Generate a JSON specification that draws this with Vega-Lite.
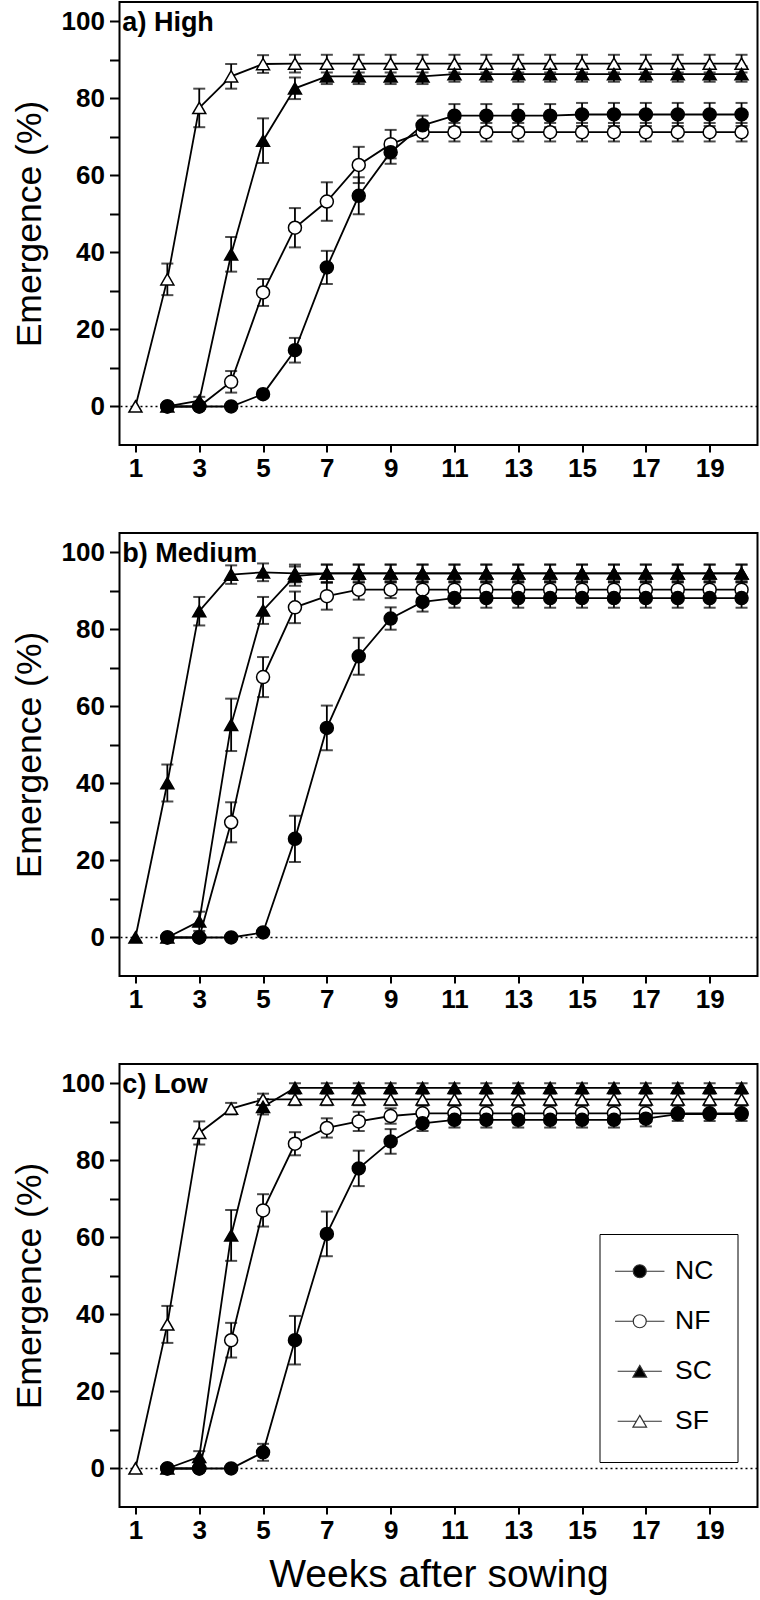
{
  "$schema": "https://vega.github.io/schema/vega-lite/v6.json",
  "padding": {"left": 10.5, "top": 1, "right": 0, "bottom": 0},
  "background": "white",
  "spacing": 88,
  "bounds": "flush",
  "config": {
    "view": {"stroke": "black", "strokeWidth": 2},
    "axis": {"grid": false, "domain": false, "tickColor": "black", "tickWidth": 2, "labelColor": "black", "labelFont": "Liberation Sans", "labelFontWeight": "bold", "labelFontSize": 26, "titleFont": "Liberation Sans", "titleFontWeight": "normal", "titleColor": "black", "labelFlush": false, "labelOverlap": false}
  },
  "resolve": {"scale": {"shape": "independent", "fill": "independent", "size": "independent"}},
  "data": {"values": [
    {"panel":"a","series":"SF","week":1,"pct":0,"se":0},
    {"panel":"a","series":"SF","week":2,"pct":33,"se":4.1},
    {"panel":"a","series":"SF","week":3,"pct":77.5,"se":5},
    {"panel":"a","series":"SF","week":4,"pct":85.7,"se":3.2},
    {"panel":"a","series":"SF","week":5,"pct":88.9,"se":2.3},
    {"panel":"a","series":"SF","week":6,"pct":89,"se":2.3},
    {"panel":"a","series":"SF","week":7,"pct":89,"se":2.3},
    {"panel":"a","series":"SF","week":8,"pct":89,"se":2.3},
    {"panel":"a","series":"SF","week":9,"pct":89,"se":2.3},
    {"panel":"a","series":"SF","week":10,"pct":89,"se":2.3},
    {"panel":"a","series":"SF","week":11,"pct":89,"se":2.3},
    {"panel":"a","series":"SF","week":12,"pct":89,"se":2.3},
    {"panel":"a","series":"SF","week":13,"pct":89,"se":2.3},
    {"panel":"a","series":"SF","week":14,"pct":89,"se":2.3},
    {"panel":"a","series":"SF","week":15,"pct":89,"se":2.3},
    {"panel":"a","series":"SF","week":16,"pct":89,"se":2.3},
    {"panel":"a","series":"SF","week":17,"pct":89,"se":2.3},
    {"panel":"a","series":"SF","week":18,"pct":89,"se":2.3},
    {"panel":"a","series":"SF","week":19,"pct":89,"se":2.3},
    {"panel":"a","series":"SF","week":20,"pct":89,"se":2.3},
    {"panel":"a","series":"SC","week":2,"pct":0,"se":0},
    {"panel":"a","series":"SC","week":3,"pct":1.5,"se":1},
    {"panel":"a","series":"SC","week":4,"pct":39.5,"se":4.5},
    {"panel":"a","series":"SC","week":5,"pct":69,"se":5.8},
    {"panel":"a","series":"SC","week":6,"pct":82.6,"se":2.8},
    {"panel":"a","series":"SC","week":7,"pct":85.7,"se":2},
    {"panel":"a","series":"SC","week":8,"pct":85.7,"se":2},
    {"panel":"a","series":"SC","week":9,"pct":85.7,"se":2},
    {"panel":"a","series":"SC","week":10,"pct":85.7,"se":2},
    {"panel":"a","series":"SC","week":11,"pct":86.3,"se":2},
    {"panel":"a","series":"SC","week":12,"pct":86.3,"se":2},
    {"panel":"a","series":"SC","week":13,"pct":86.3,"se":2},
    {"panel":"a","series":"SC","week":14,"pct":86.3,"se":2},
    {"panel":"a","series":"SC","week":15,"pct":86.3,"se":2},
    {"panel":"a","series":"SC","week":16,"pct":86.3,"se":2},
    {"panel":"a","series":"SC","week":17,"pct":86.3,"se":2},
    {"panel":"a","series":"SC","week":18,"pct":86.3,"se":2},
    {"panel":"a","series":"SC","week":19,"pct":86.3,"se":2},
    {"panel":"a","series":"SC","week":20,"pct":86.3,"se":2},
    {"panel":"a","series":"NF","week":2,"pct":0,"se":0},
    {"panel":"a","series":"NF","week":3,"pct":0,"se":0},
    {"panel":"a","series":"NF","week":4,"pct":6.4,"se":2.8},
    {"panel":"a","series":"NF","week":5,"pct":29.6,"se":3.5},
    {"panel":"a","series":"NF","week":6,"pct":46.4,"se":5.1},
    {"panel":"a","series":"NF","week":7,"pct":53.2,"se":5},
    {"panel":"a","series":"NF","week":8,"pct":62.7,"se":4.7},
    {"panel":"a","series":"NF","week":9,"pct":68.1,"se":3.7},
    {"panel":"a","series":"NF","week":10,"pct":71.2,"se":2.4},
    {"panel":"a","series":"NF","week":11,"pct":71.2,"se":2.4},
    {"panel":"a","series":"NF","week":12,"pct":71.2,"se":2.4},
    {"panel":"a","series":"NF","week":13,"pct":71.2,"se":2.4},
    {"panel":"a","series":"NF","week":14,"pct":71.2,"se":2.4},
    {"panel":"a","series":"NF","week":15,"pct":71.2,"se":2.4},
    {"panel":"a","series":"NF","week":16,"pct":71.2,"se":2.4},
    {"panel":"a","series":"NF","week":17,"pct":71.2,"se":2.4},
    {"panel":"a","series":"NF","week":18,"pct":71.2,"se":2.4},
    {"panel":"a","series":"NF","week":19,"pct":71.2,"se":2.4},
    {"panel":"a","series":"NF","week":20,"pct":71.2,"se":2.4},
    {"panel":"a","series":"NC","week":2,"pct":0,"se":0},
    {"panel":"a","series":"NC","week":3,"pct":0,"se":0},
    {"panel":"a","series":"NC","week":4,"pct":0,"se":0},
    {"panel":"a","series":"NC","week":5,"pct":3.2,"se":0.8},
    {"panel":"a","series":"NC","week":6,"pct":14.6,"se":3.2},
    {"panel":"a","series":"NC","week":7,"pct":36.1,"se":4.3},
    {"panel":"a","series":"NC","week":8,"pct":54.7,"se":4.8},
    {"panel":"a","series":"NC","week":9,"pct":66,"se":3},
    {"panel":"a","series":"NC","week":10,"pct":73,"se":2.5},
    {"panel":"a","series":"NC","week":11,"pct":75.5,"se":3},
    {"panel":"a","series":"NC","week":12,"pct":75.5,"se":3},
    {"panel":"a","series":"NC","week":13,"pct":75.5,"se":3},
    {"panel":"a","series":"NC","week":14,"pct":75.5,"se":3},
    {"panel":"a","series":"NC","week":15,"pct":75.8,"se":3},
    {"panel":"a","series":"NC","week":16,"pct":75.8,"se":3},
    {"panel":"a","series":"NC","week":17,"pct":75.8,"se":3},
    {"panel":"a","series":"NC","week":18,"pct":75.8,"se":3},
    {"panel":"a","series":"NC","week":19,"pct":75.8,"se":3},
    {"panel":"a","series":"NC","week":20,"pct":75.8,"se":3},
    {"panel":"b","series":"SF","week":1,"pct":0,"se":0},
    {"panel":"b","series":"SF","week":2,"pct":40.1,"se":4.8},
    {"panel":"b","series":"SF","week":3,"pct":84.7,"se":3.7},
    {"panel":"b","series":"SF","week":4,"pct":94.2,"se":2.4},
    {"panel":"b","series":"SF","week":5,"pct":94.8,"se":2.3},
    {"panel":"b","series":"SF","week":6,"pct":94.5,"se":2.3},
    {"panel":"b","series":"SF","week":7,"pct":94.5,"se":2.3},
    {"panel":"b","series":"SF","week":8,"pct":94.5,"se":2.3},
    {"panel":"b","series":"SF","week":9,"pct":94.5,"se":2.3},
    {"panel":"b","series":"SF","week":10,"pct":94.5,"se":2.3},
    {"panel":"b","series":"SF","week":11,"pct":94.5,"se":2.3},
    {"panel":"b","series":"SF","week":12,"pct":94.5,"se":2.3},
    {"panel":"b","series":"SF","week":13,"pct":94.5,"se":2.3},
    {"panel":"b","series":"SF","week":14,"pct":94.5,"se":2.3},
    {"panel":"b","series":"SF","week":15,"pct":94.5,"se":2.3},
    {"panel":"b","series":"SF","week":16,"pct":94.5,"se":2.3},
    {"panel":"b","series":"SF","week":17,"pct":94.5,"se":2.3},
    {"panel":"b","series":"SF","week":18,"pct":94.5,"se":2.3},
    {"panel":"b","series":"SF","week":19,"pct":94.5,"se":2.3},
    {"panel":"b","series":"SF","week":20,"pct":94.5,"se":2.3},
    {"panel":"b","series":"SC","week":2,"pct":0,"se":0},
    {"panel":"b","series":"SC","week":3,"pct":4.2,"se":2.5},
    {"panel":"b","series":"SC","week":4,"pct":55.2,"se":6.8},
    {"panel":"b","series":"SC","week":5,"pct":84.9,"se":3.5},
    {"panel":"b","series":"SC","week":6,"pct":93.8,"se":2.5},
    {"panel":"b","series":"SC","week":7,"pct":94.5,"se":2.3},
    {"panel":"b","series":"SC","week":8,"pct":94.5,"se":2.3},
    {"panel":"b","series":"SC","week":9,"pct":94.5,"se":2.3},
    {"panel":"b","series":"SC","week":10,"pct":94.5,"se":2.3},
    {"panel":"b","series":"SC","week":11,"pct":94.5,"se":2.3},
    {"panel":"b","series":"SC","week":12,"pct":94.5,"se":2.3},
    {"panel":"b","series":"SC","week":13,"pct":94.5,"se":2.3},
    {"panel":"b","series":"SC","week":14,"pct":94.5,"se":2.3},
    {"panel":"b","series":"SC","week":15,"pct":94.5,"se":2.3},
    {"panel":"b","series":"SC","week":16,"pct":94.5,"se":2.3},
    {"panel":"b","series":"SC","week":17,"pct":94.5,"se":2.3},
    {"panel":"b","series":"SC","week":18,"pct":94.5,"se":2.3},
    {"panel":"b","series":"SC","week":19,"pct":94.5,"se":2.3},
    {"panel":"b","series":"SC","week":20,"pct":94.5,"se":2.3},
    {"panel":"b","series":"NF","week":2,"pct":0,"se":0},
    {"panel":"b","series":"NF","week":3,"pct":0,"se":0},
    {"panel":"b","series":"NF","week":4,"pct":29.9,"se":5.2},
    {"panel":"b","series":"NF","week":5,"pct":67.6,"se":5.2},
    {"panel":"b","series":"NF","week":6,"pct":85.7,"se":4.1},
    {"panel":"b","series":"NF","week":7,"pct":88.6,"se":3.5},
    {"panel":"b","series":"NF","week":8,"pct":90.3,"se":2.6},
    {"panel":"b","series":"NF","week":9,"pct":90.3,"se":2.2},
    {"panel":"b","series":"NF","week":10,"pct":90.3,"se":2.2},
    {"panel":"b","series":"NF","week":11,"pct":90.3,"se":2.2},
    {"panel":"b","series":"NF","week":12,"pct":90.3,"se":2.2},
    {"panel":"b","series":"NF","week":13,"pct":90.3,"se":2.2},
    {"panel":"b","series":"NF","week":14,"pct":90.3,"se":2.2},
    {"panel":"b","series":"NF","week":15,"pct":90.3,"se":2.2},
    {"panel":"b","series":"NF","week":16,"pct":90.3,"se":2.2},
    {"panel":"b","series":"NF","week":17,"pct":90.3,"se":2.2},
    {"panel":"b","series":"NF","week":18,"pct":90.3,"se":2.2},
    {"panel":"b","series":"NF","week":19,"pct":90.3,"se":2.2},
    {"panel":"b","series":"NF","week":20,"pct":90.3,"se":2.2},
    {"panel":"b","series":"NC","week":2,"pct":0,"se":0},
    {"panel":"b","series":"NC","week":3,"pct":0,"se":0},
    {"panel":"b","series":"NC","week":4,"pct":0,"se":0},
    {"panel":"b","series":"NC","week":5,"pct":1.3,"se":0.5},
    {"panel":"b","series":"NC","week":6,"pct":25.6,"se":6},
    {"panel":"b","series":"NC","week":7,"pct":54.4,"se":5.8},
    {"panel":"b","series":"NC","week":8,"pct":73,"se":4.8},
    {"panel":"b","series":"NC","week":9,"pct":82.8,"se":2.9},
    {"panel":"b","series":"NC","week":10,"pct":87.1,"se":2.5},
    {"panel":"b","series":"NC","week":11,"pct":88.1,"se":2.5},
    {"panel":"b","series":"NC","week":12,"pct":88.1,"se":2.5},
    {"panel":"b","series":"NC","week":13,"pct":88.1,"se":2.5},
    {"panel":"b","series":"NC","week":14,"pct":88.1,"se":2.5},
    {"panel":"b","series":"NC","week":15,"pct":88.1,"se":2.5},
    {"panel":"b","series":"NC","week":16,"pct":88.1,"se":2.5},
    {"panel":"b","series":"NC","week":17,"pct":88.1,"se":2.5},
    {"panel":"b","series":"NC","week":18,"pct":88.1,"se":2.5},
    {"panel":"b","series":"NC","week":19,"pct":88.1,"se":2.5},
    {"panel":"b","series":"NC","week":20,"pct":88.1,"se":2.5},
    {"panel":"c","series":"SF","week":1,"pct":0,"se":0},
    {"panel":"c","series":"SF","week":2,"pct":37.4,"se":4.8},
    {"panel":"c","series":"SF","week":3,"pct":87.1,"se":3},
    {"panel":"c","series":"SF","week":4,"pct":93.4,"se":1.5},
    {"panel":"c","series":"SF","week":5,"pct":95.8,"se":1.5},
    {"panel":"c","series":"SF","week":6,"pct":95.8,"se":1.5},
    {"panel":"c","series":"SF","week":7,"pct":95.8,"se":1.5},
    {"panel":"c","series":"SF","week":8,"pct":95.8,"se":1.5},
    {"panel":"c","series":"SF","week":9,"pct":95.8,"se":1.5},
    {"panel":"c","series":"SF","week":10,"pct":95.8,"se":1.5},
    {"panel":"c","series":"SF","week":11,"pct":95.8,"se":1.5},
    {"panel":"c","series":"SF","week":12,"pct":95.8,"se":1.5},
    {"panel":"c","series":"SF","week":13,"pct":95.8,"se":1.5},
    {"panel":"c","series":"SF","week":14,"pct":95.8,"se":1.5},
    {"panel":"c","series":"SF","week":15,"pct":95.8,"se":1.5},
    {"panel":"c","series":"SF","week":16,"pct":95.8,"se":1.5},
    {"panel":"c","series":"SF","week":17,"pct":95.8,"se":1.5},
    {"panel":"c","series":"SF","week":18,"pct":95.8,"se":1.5},
    {"panel":"c","series":"SF","week":19,"pct":95.8,"se":1.5},
    {"panel":"c","series":"SF","week":20,"pct":95.8,"se":1.5},
    {"panel":"c","series":"SC","week":2,"pct":0,"se":0},
    {"panel":"c","series":"SC","week":3,"pct":3,"se":1.5},
    {"panel":"c","series":"SC","week":4,"pct":60.5,"se":6.6},
    {"panel":"c","series":"SC","week":5,"pct":93.9,"se":2},
    {"panel":"c","series":"SC","week":6,"pct":98.8,"se":1.2},
    {"panel":"c","series":"SC","week":7,"pct":98.8,"se":1.2},
    {"panel":"c","series":"SC","week":8,"pct":98.8,"se":1.2},
    {"panel":"c","series":"SC","week":9,"pct":98.8,"se":1.2},
    {"panel":"c","series":"SC","week":10,"pct":98.8,"se":1.2},
    {"panel":"c","series":"SC","week":11,"pct":98.8,"se":1.2},
    {"panel":"c","series":"SC","week":12,"pct":98.8,"se":1.2},
    {"panel":"c","series":"SC","week":13,"pct":98.8,"se":1.2},
    {"panel":"c","series":"SC","week":14,"pct":98.8,"se":1.2},
    {"panel":"c","series":"SC","week":15,"pct":98.8,"se":1.2},
    {"panel":"c","series":"SC","week":16,"pct":98.8,"se":1.2},
    {"panel":"c","series":"SC","week":17,"pct":98.8,"se":1.2},
    {"panel":"c","series":"SC","week":18,"pct":98.8,"se":1.2},
    {"panel":"c","series":"SC","week":19,"pct":98.8,"se":1.2},
    {"panel":"c","series":"SC","week":20,"pct":98.8,"se":1.2},
    {"panel":"c","series":"NF","week":2,"pct":0,"se":0},
    {"panel":"c","series":"NF","week":3,"pct":0,"se":0},
    {"panel":"c","series":"NF","week":4,"pct":33.3,"se":4.5},
    {"panel":"c","series":"NF","week":5,"pct":67,"se":4.2},
    {"panel":"c","series":"NF","week":6,"pct":84.3,"se":3},
    {"panel":"c","series":"NF","week":7,"pct":88.4,"se":2.5},
    {"panel":"c","series":"NF","week":8,"pct":90.1,"se":2.5},
    {"panel":"c","series":"NF","week":9,"pct":91.5,"se":2},
    {"panel":"c","series":"NF","week":10,"pct":92.2,"se":2},
    {"panel":"c","series":"NF","week":11,"pct":92.2,"se":2},
    {"panel":"c","series":"NF","week":12,"pct":92.2,"se":2},
    {"panel":"c","series":"NF","week":13,"pct":92.2,"se":2},
    {"panel":"c","series":"NF","week":14,"pct":92.2,"se":2},
    {"panel":"c","series":"NF","week":15,"pct":92.2,"se":2},
    {"panel":"c","series":"NF","week":16,"pct":92.2,"se":2},
    {"panel":"c","series":"NF","week":17,"pct":92.2,"se":2},
    {"panel":"c","series":"NF","week":18,"pct":92.2,"se":2},
    {"panel":"c","series":"NF","week":19,"pct":92.2,"se":2},
    {"panel":"c","series":"NF","week":20,"pct":92.2,"se":2},
    {"panel":"c","series":"NC","week":2,"pct":0,"se":0},
    {"panel":"c","series":"NC","week":3,"pct":0,"se":0},
    {"panel":"c","series":"NC","week":4,"pct":0,"se":0},
    {"panel":"c","series":"NC","week":5,"pct":4.2,"se":2.2},
    {"panel":"c","series":"NC","week":6,"pct":33.3,"se":6.3},
    {"panel":"c","series":"NC","week":7,"pct":60.9,"se":5.8},
    {"panel":"c","series":"NC","week":8,"pct":77.9,"se":4.6},
    {"panel":"c","series":"NC","week":9,"pct":84.9,"se":3.2},
    {"panel":"c","series":"NC","week":10,"pct":89.6,"se":2},
    {"panel":"c","series":"NC","week":11,"pct":90.5,"se":2},
    {"panel":"c","series":"NC","week":12,"pct":90.5,"se":2},
    {"panel":"c","series":"NC","week":13,"pct":90.5,"se":2},
    {"panel":"c","series":"NC","week":14,"pct":90.5,"se":2},
    {"panel":"c","series":"NC","week":15,"pct":90.5,"se":2},
    {"panel":"c","series":"NC","week":16,"pct":90.5,"se":2},
    {"panel":"c","series":"NC","week":17,"pct":90.8,"se":2},
    {"panel":"c","series":"NC","week":18,"pct":92,"se":1},
    {"panel":"c","series":"NC","week":19,"pct":92,"se":1},
    {"panel":"c","series":"NC","week":20,"pct":92,"se":1}
  ]},
  "vconcat": [
    {
      "width": 638, "height": 443,
      "transform": [{"filter": "datum.panel === 'a'"}],
      "layer": [
        {"data": {"values": [{"zero": 0}]}, "mark": {"type": "rule", "color": "black", "strokeDash": [2, 3], "strokeWidth": 1.3}, "encoding": {"y": {"field": "zero", "type": "quantitative", "title": "Emergence (%)", "scale": {"domain": [-10, 105], "nice": false, "zero": false}}}},
        {"mark": {"type": "line", "color": "black", "strokeWidth": 1.8},
         "encoding": {
           "x": {"field": "week", "type": "quantitative", "scale": {"domain": [0.5, 20.5], "nice": false, "zero": false},
                 "axis": {"values": [1,2,3,4,5,6,7,8,9,10,11,12,13,14,15,16,17,18,19,20], "labelExpr": "datum.value % 2 === 1 ? datum.label : ''", "tickSize": 7, "labelPadding": 3, "title": null}},
           "y": {"field": "pct", "type": "quantitative", "title": "Emergence (%)", "scale": {"domain": [-10, 105], "nice": false, "zero": false},
                 "axis": {"values": [0,10,20,30,40,50,60,70,80,90,100], "labelExpr": "datum.value % 20 === 0 ? datum.label : ''", "tickSize": 10, "labelPadding": 5, "title": "Emergence (%)", "titleFontSize": 35.5, "titlePadding": 14}},
           "detail": {"field": "series"}
         }},
        {"transform": [{"filter": "datum.se > 0"}],
         "mark": {"type": "errorbar", "ticks": {"size": 12, "thickness": 2, "color": "black"}, "rule": {"strokeWidth": 1.8, "color": "black"}},
         "encoding": {"x": {"field": "week", "type": "quantitative", "title": null}, "y": {"field": "pct", "type": "quantitative", "title": "Emergence (%)"}, "yError": {"field": "se"}}},
        {"mark": {"type": "point", "stroke": "black", "strokeWidth": 1.5, "opacity": 1},
         "encoding": {
           "x": {"field": "week", "type": "quantitative", "title": null},
           "y": {"field": "pct", "type": "quantitative", "title": "Emergence (%)"},
           "shape": {"field": "series", "scale": {"domain": ["NC","NF","SC","SF"], "range": ["circle","circle","triangle-up","triangle-up"]}, "legend": null},
           "fill": {"field": "series", "scale": {"domain": ["NC","NF","SC","SF"], "range": ["black","white","black","white"]}, "legend": null},
           "size": {"field": "series", "scale": {"domain": ["NC","NF","SC","SF"], "range": [169,169,210,210]}, "legend": null}
         }},
        {"data": {"values": [{"label": "a) High"}]}, "mark": {"type": "text", "align": "left", "baseline": "alphabetic", "font": "Liberation Sans", "fontWeight": "bold", "fontSize": 27, "color": "black"},
         "encoding": {"x": {"datum": 0.59}, "y": {"datum": 97.6}, "text": {"field": "label"}}}
      ]
    },
    {
      "width": 638, "height": 443,
      "transform": [{"filter": "datum.panel === 'b'"}],
      "layer": [
        {"data": {"values": [{"zero": 0}]}, "mark": {"type": "rule", "color": "black", "strokeDash": [2, 3], "strokeWidth": 1.3}, "encoding": {"y": {"field": "zero", "type": "quantitative", "title": "Emergence (%)", "scale": {"domain": [-10, 105], "nice": false, "zero": false}}}},
        {"mark": {"type": "line", "color": "black", "strokeWidth": 1.8},
         "encoding": {
           "x": {"field": "week", "type": "quantitative", "scale": {"domain": [0.5, 20.5], "nice": false, "zero": false},
                 "axis": {"values": [1,2,3,4,5,6,7,8,9,10,11,12,13,14,15,16,17,18,19,20], "labelExpr": "datum.value % 2 === 1 ? datum.label : ''", "tickSize": 7, "labelPadding": 3, "title": null}},
           "y": {"field": "pct", "type": "quantitative", "title": "Emergence (%)", "scale": {"domain": [-10, 105], "nice": false, "zero": false},
                 "axis": {"values": [0,10,20,30,40,50,60,70,80,90,100], "labelExpr": "datum.value % 20 === 0 ? datum.label : ''", "tickSize": 10, "labelPadding": 5, "title": "Emergence (%)", "titleFontSize": 35.5, "titlePadding": 14}},
           "detail": {"field": "series"}
         }},
        {"transform": [{"filter": "datum.se > 0"}],
         "mark": {"type": "errorbar", "ticks": {"size": 12, "thickness": 2, "color": "black"}, "rule": {"strokeWidth": 1.8, "color": "black"}},
         "encoding": {"x": {"field": "week", "type": "quantitative", "title": null}, "y": {"field": "pct", "type": "quantitative", "title": "Emergence (%)"}, "yError": {"field": "se"}}},
        {"mark": {"type": "point", "stroke": "black", "strokeWidth": 1.5, "opacity": 1},
         "encoding": {
           "x": {"field": "week", "type": "quantitative", "title": null},
           "y": {"field": "pct", "type": "quantitative", "title": "Emergence (%)"},
           "shape": {"field": "series", "scale": {"domain": ["NC","NF","SC","SF"], "range": ["circle","circle","triangle-up","triangle-up"]}, "legend": null},
           "fill": {"condition": {"test": "datum.series === 'SF'", "value": "black"}, "field": "series", "scale": {"domain": ["NC","NF","SC","SF"], "range": ["black","white","black","white"]}, "legend": null},
           "size": {"field": "series", "scale": {"domain": ["NC","NF","SC","SF"], "range": [169,169,210,210]}, "legend": null}
         }},
        {"data": {"values": [{"label": "b) Medium"}]}, "mark": {"type": "text", "align": "left", "baseline": "alphabetic", "font": "Liberation Sans", "fontWeight": "bold", "fontSize": 27, "color": "black"},
         "encoding": {"x": {"datum": 0.59}, "y": {"datum": 97.6}, "text": {"field": "label"}}}
      ]
    },
    {
      "width": 638, "height": 443,
      "transform": [{"filter": "datum.panel === 'c'"}],
      "layer": [
        {"data": {"values": [{"zero": 0}]}, "mark": {"type": "rule", "color": "black", "strokeDash": [2, 3], "strokeWidth": 1.3}, "encoding": {"y": {"field": "zero", "type": "quantitative", "title": "Emergence (%)", "scale": {"domain": [-10, 105], "nice": false, "zero": false}}}},
        {"mark": {"type": "line", "color": "black", "strokeWidth": 1.8},
         "encoding": {
           "x": {"field": "week", "type": "quantitative", "title": "Weeks after sowing", "scale": {"domain": [0.5, 20.5], "nice": false, "zero": false},
                 "axis": {"values": [1,2,3,4,5,6,7,8,9,10,11,12,13,14,15,16,17,18,19,20], "labelExpr": "datum.value % 2 === 1 ? datum.label : ''", "tickSize": 7, "labelPadding": 3, "title": "Weeks after sowing", "titleFontSize": 39, "titlePadding": 12}},
           "y": {"field": "pct", "type": "quantitative", "title": "Emergence (%)", "scale": {"domain": [-10, 105], "nice": false, "zero": false},
                 "axis": {"values": [0,10,20,30,40,50,60,70,80,90,100], "labelExpr": "datum.value % 20 === 0 ? datum.label : ''", "tickSize": 10, "labelPadding": 5, "title": "Emergence (%)", "titleFontSize": 35.5, "titlePadding": 14}},
           "detail": {"field": "series"}
         }},
        {"transform": [{"filter": "datum.se > 0"}],
         "mark": {"type": "errorbar", "ticks": {"size": 12, "thickness": 2, "color": "black"}, "rule": {"strokeWidth": 1.8, "color": "black"}},
         "encoding": {"x": {"field": "week", "type": "quantitative", "title": "Weeks after sowing"}, "y": {"field": "pct", "type": "quantitative", "title": "Emergence (%)"}, "yError": {"field": "se"}}},
        {"mark": {"type": "point", "stroke": "black", "strokeWidth": 1.5, "opacity": 1},
         "encoding": {
           "x": {"field": "week", "type": "quantitative", "title": "Weeks after sowing"},
           "y": {"field": "pct", "type": "quantitative", "title": "Emergence (%)"},
           "shape": {"field": "series", "scale": {"domain": ["SF","SC","NF","NC"], "range": ["triangle-up","triangle-up","circle","circle"]}, "legend": null},
           "fill": {"field": "series", "scale": {"domain": ["NC","NF","SC","SF"], "range": ["black","white","black","white"]},
                    "legend": {"orient": "none", "legendX": 480, "legendY": 170, "title": " ", "titleOrient": "bottom", "titleFontSize": 1, "titlePadding": 2, "strokeColor": "black", "padding": 24, "rowPadding": 23, "symbolStrokeColor": "#333333", "symbolStrokeWidth": 1.2, "symbolOpacity": 1, "symbolOffset": 3, "labelOffset": 22, "labelFontSize": 26.5, "labelFont": "Liberation Sans", "labelColor": "black",
                               "encode": {"symbols": {"update": {"shape": {"signal": "(datum.value === 'NC' || datum.value === 'NF') ? 'M-3.8,0L-1,0M1,0L3.8,0M1,0C1,0.552,0.552,1,0,1C-0.552,1,-1,0.552,-1,0C-1,-0.552,-0.552,-1,0,-1C0.552,-1,1,-0.552,1,0Z' : 'M-3.4,0L-0.53,0M0.53,0L3.4,0M0,-0.9L1.05,0.9L-1.05,0.9Z'"}}}}}},
           "size": {"field": "series", "scale": {"domain": ["NC","NF","SC","SF"], "range": [169,169,210,210]},
                    "legend": {"orient": "none", "legendX": 480, "legendY": 170, "title": " ", "titleOrient": "bottom", "titleFontSize": 1, "titlePadding": 2, "strokeColor": "black", "padding": 24, "rowPadding": 23, "symbolStrokeColor": "#333333", "symbolStrokeWidth": 1.2, "symbolOpacity": 1, "symbolOffset": 3, "labelOffset": 22, "labelFontSize": 26.5, "labelFont": "Liberation Sans", "labelColor": "black",
                               "encode": {"symbols": {"update": {"shape": {"signal": "(datum.value === 'NC' || datum.value === 'NF') ? 'M-3.8,0L-1,0M1,0L3.8,0M1,0C1,0.552,0.552,1,0,1C-0.552,1,-1,0.552,-1,0C-1,-0.552,-0.552,-1,0,-1C0.552,-1,1,-0.552,1,0Z' : 'M-3.4,0L-0.53,0M0.53,0L3.4,0M0,-0.9L1.05,0.9L-1.05,0.9Z'"}}}}}}
         }},
        {"data": {"values": [{"label": "c) Low"}]}, "mark": {"type": "text", "align": "left", "baseline": "alphabetic", "font": "Liberation Sans", "fontWeight": "bold", "fontSize": 27, "color": "black"},
         "encoding": {"x": {"datum": 0.59}, "y": {"datum": 97.6}, "text": {"field": "label"}}}
      ]
    }
  ]
}
